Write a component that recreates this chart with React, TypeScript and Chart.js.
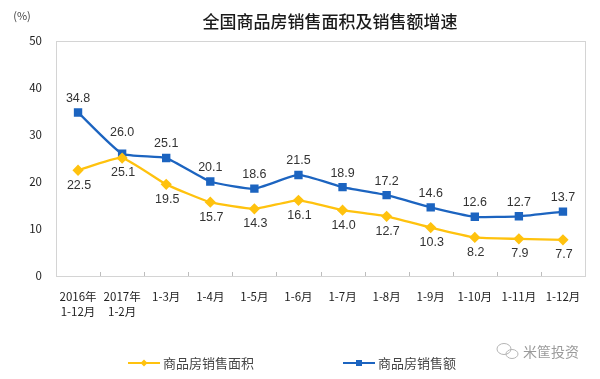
import React, { useEffect, useRef } from "react";
import { Chart, registerables } from "chart.js";

Chart.register(...registerables);

const categories: (string | string[])[] = [
  ["2016年", "1-12月"],
  ["2017年", "1-2月"],
  "1-3月",
  "1-4月",
  "1-5月",
  "1-6月",
  "1-7月",
  "1-8月",
  "1-9月",
  "1-10月",
  "1-11月",
  "1-12月",
];
const areaGrowth = [22.5, 25.1, 19.5, 15.7, 14.3, 16.1, 14.0, 12.7, 10.3, 8.2, 7.9, 7.7];
const salesGrowth = [34.8, 26.0, 25.1, 20.1, 18.6, 21.5, 18.9, 17.2, 14.6, 12.6, 12.7, 13.7];
const areaLabel = "商品房销售面积";
const salesLabel = "商品房销售额";
const titleText = "全国商品房销售面积及销售额增速";
const unitText = "(%)";
const watermarkText = "米筐投资";

const YELLOW = "#FFC20E";
const BLUE = "#1C64C0";
const CJK = "'Noto Sans CJK SC', 'Liberation Sans', sans-serif";

export default function App() {
  const ref = useRef<HTMLCanvasElement | null>(null);

  useEffect(() => {
    document.body.style.margin = "0";
    const canvas = ref.current;
    if (!canvas) return;

    const decor = {
      id: "decor",
      beforeDatasetsDraw(chart: any) {
        const { ctx, chartArea } = chart;
        ctx.save();
        ctx.strokeStyle = "#d4d4d4";
        ctx.lineWidth = 1;
        ctx.strokeRect(
          Math.round(chartArea.left) + 0.5,
          Math.round(chartArea.top) + 0.5,
          Math.round(chartArea.right - chartArea.left),
          Math.round(chartArea.bottom - chartArea.top)
        );
        const xs = chart.scales.x;
        ctx.strokeStyle = "#bdbdbd";
        for (let i = 1; i < categories.length; i++) {
          const x = Math.round((xs.getPixelForValue(i - 1) + xs.getPixelForValue(i)) / 2) + 0.5;
          ctx.beginPath();
          ctx.moveTo(x, chartArea.bottom);
          ctx.lineTo(x, chartArea.bottom - 4);
          ctx.stroke();
        }
        ctx.restore();
      },
      afterDatasetsDraw(chart: any) {
        const { ctx } = chart;
        ctx.save();
        ctx.font = "12.5px 'Liberation Sans', Arial, sans-serif";
        ctx.fillStyle = "#333";
        ctx.textAlign = "center";
        ctx.textBaseline = "middle";
        const salesMeta = chart.getDatasetMeta(1);
        const areaMeta = chart.getDatasetMeta(0);
        salesMeta.data.forEach((pt: any, i: number) => {
          const close = Math.abs(salesGrowth[i] - areaGrowth[i]) < 2;
          ctx.fillText(salesGrowth[i].toFixed(1), pt.x, pt.y - (close ? 21 : 14));
        });
        areaMeta.data.forEach((pt: any, i: number) => {
          ctx.fillText(areaGrowth[i].toFixed(1), pt.x + 1, pt.y + 15);
        });

        ctx.font = `500 17px ${CJK}`;
        ctx.fillStyle = "#1a1a1a";
        ctx.fillText(titleText, 330, 22);
        ctx.font = `11px ${CJK}`;
        ctx.fillStyle = "#444";
        ctx.fillText(unitText, 22, 16);

        const drawLegend = (x: number, color: string, shape: string, label: string) => {
          const y = 363;
          ctx.strokeStyle = color;
          ctx.lineWidth = 2;
          ctx.beginPath();
          ctx.moveTo(x, y);
          ctx.lineTo(x + 32, y);
          ctx.stroke();
          ctx.fillStyle = color;
          const cx = x + 16;
          ctx.beginPath();
          if (shape === "diamond") {
            ctx.moveTo(cx, y - 3.5);
            ctx.lineTo(cx + 3.5, y);
            ctx.lineTo(cx, y + 3.5);
            ctx.lineTo(cx - 3.5, y);
            ctx.closePath();
          } else {
            ctx.rect(cx - 3, y - 3, 6, 6);
          }
          ctx.fill();
          ctx.font = `13px ${CJK}`;
          ctx.fillStyle = "#444";
          ctx.textAlign = "left";
          ctx.fillText(label, x + 35, y);
        };
        drawLegend(128, YELLOW, "diamond", areaLabel);
        drawLegend(343, BLUE, "square", salesLabel);

        ctx.strokeStyle = "#b5b5b5";
        ctx.lineWidth = 1;
        ctx.beginPath();
        ctx.ellipse(504, 349, 7, 5.5, 0, 0, Math.PI * 2);
        ctx.stroke();
        ctx.beginPath();
        ctx.ellipse(512, 354, 6, 4.5, 0, 0, Math.PI * 2);
        ctx.stroke();
        ctx.font = `14px ${CJK}`;
        ctx.fillStyle = "#9a9a9a";
        ctx.textAlign = "left";
        ctx.fillText(watermarkText, 523, 352);
        ctx.restore();
      },
    };

    const chart = new Chart(canvas, {
      type: "line",
      data: {
        labels: categories,
        datasets: [
          {
            label: areaLabel,
            data: areaGrowth,
            borderColor: YELLOW,
            backgroundColor: YELLOW,
            borderWidth: 2.3,
            pointStyle: "rectRot",
            pointRadius: 4,
            tension: 0.15,
          },
          {
            label: salesLabel,
            data: salesGrowth,
            borderColor: BLUE,
            backgroundColor: BLUE,
            borderWidth: 2.3,
            pointStyle: "rect",
            pointRadius: 4.3,
            tension: 0.15,
          },
        ],
      },
      options: {
        responsive: false,
        animation: false,
        layout: { padding: { top: 41, right: 15, left: 0, bottom: 0 } },
        plugins: {
          legend: { display: false },
          title: { display: false },
          tooltip: { enabled: false },
        },
        scales: {
          x: {
            offset: true,
            grid: { display: false, drawTicks: false },
            border: { display: false },
            ticks: {
              padding: 13,
              maxRotation: 0,
              autoSkip: false,
              color: "#222",
              font: { size: 11.5, family: CJK, lineHeight: 1.3 },
            },
            afterFit(scale: any) {
              scale.height = 103;
            },
          },
          y: {
            min: 0,
            max: 50,
            ticks: {
              stepSize: 10,
              padding: 14,
              color: "#222",
              font: { size: 11.5, family: CJK },
            },
            grid: { display: false, drawTicks: false },
            border: { display: false },
            afterFit(scale: any) {
              scale.width = 56;
            },
          },
        },
      },
      plugins: [decor],
    });

    return () => chart.destroy();
  }, []);

  return (
    <div style={{ width: 600, height: 379, background: "#fff" }}>
      <canvas ref={ref} width={600} height={379} />
    </div>
  );
}
